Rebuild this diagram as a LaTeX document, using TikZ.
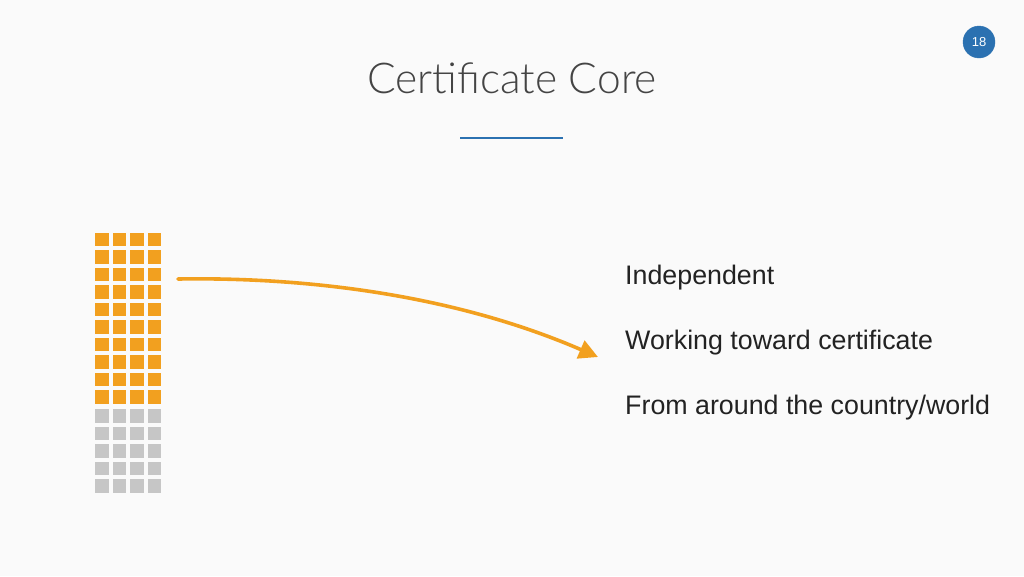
\documentclass[tikz,border=0pt]{standalone}
\usepackage{fontspec}
\setmainfont{Liberation Sans}
\newfontfamily\titlefont{Lato Light}
\definecolor{bgcol}{HTML}{FAFAFA}
\definecolor{boxorange}{HTML}{F2A01F}
\definecolor{boxgray}{HTML}{C6C6C6}
\definecolor{slideblue}{HTML}{2B71B1}
\definecolor{titlegray}{HTML}{444444}
\definecolor{bodytext}{HTML}{222222}
\usetikzlibrary{arrows.meta}
\tikzset{
  sq/.style={minimum size=13.5pt, inner sep=0pt, outer sep=0pt},
  item/.style={anchor=base west, inner sep=0pt, font=\fontsize{26.8}{30}\selectfont, text=bodytext},
}
\begin{document}
\begin{tikzpicture}[x=1pt, y=-1pt, line join=round, line cap=round]
		\fill[bgcol] (0,0) rectangle (1024,576);
		\useasboundingbox (0,0) rectangle (1024,576);
		% title and rule
		\node[anchor=base, inner sep=0pt, font=\titlefont\fontsize{42.5}{46}\selectfont, text=titlegray] (title) at (512,93) {Certificate Core};
		\coordinate (RL) at (460,138);
		\coordinate (RR) at (563,138);
		\draw[slideblue, line width=1.8pt, line cap=butt] (RL)--(RR);
		% page number
		\filldraw[slideblue] (979,42) circle(16);
		\node[text=white, font=\fontsize{13}{15}\selectfont] (page) at (979,42) {18};
		% grid of squares
		\foreach \r in {0,...,9}
			\foreach \c in {0,...,3}
				\node[sq, fill=boxorange] (o-\r-\c) at (101.75+17.5*\c, 239.25+17.5*\r) {};
		\foreach \r in {0,...,4}
			\foreach \c in {0,...,3}
				\node[sq, fill=boxgray] (g-\r-\c) at (101.75+17.5*\c, 416+17.5*\r) {};
		% arrow
		\coordinate (S) at (178,279);
		\coordinate (E) at (598,357);
		\draw[boxorange, line width=3.6pt, -{Triangle[length=19pt, width=19pt]}] (S) .. controls (300,277) and (450,293) .. (E);
		% list
		\node[item] (i1) at (625,284) {Independent};
		\node[item] (i2) at (625,349) {Working toward certificate};
		\node[item] (i3) at (625,414) {From around the country/world};
\end{tikzpicture}
\end{document}
